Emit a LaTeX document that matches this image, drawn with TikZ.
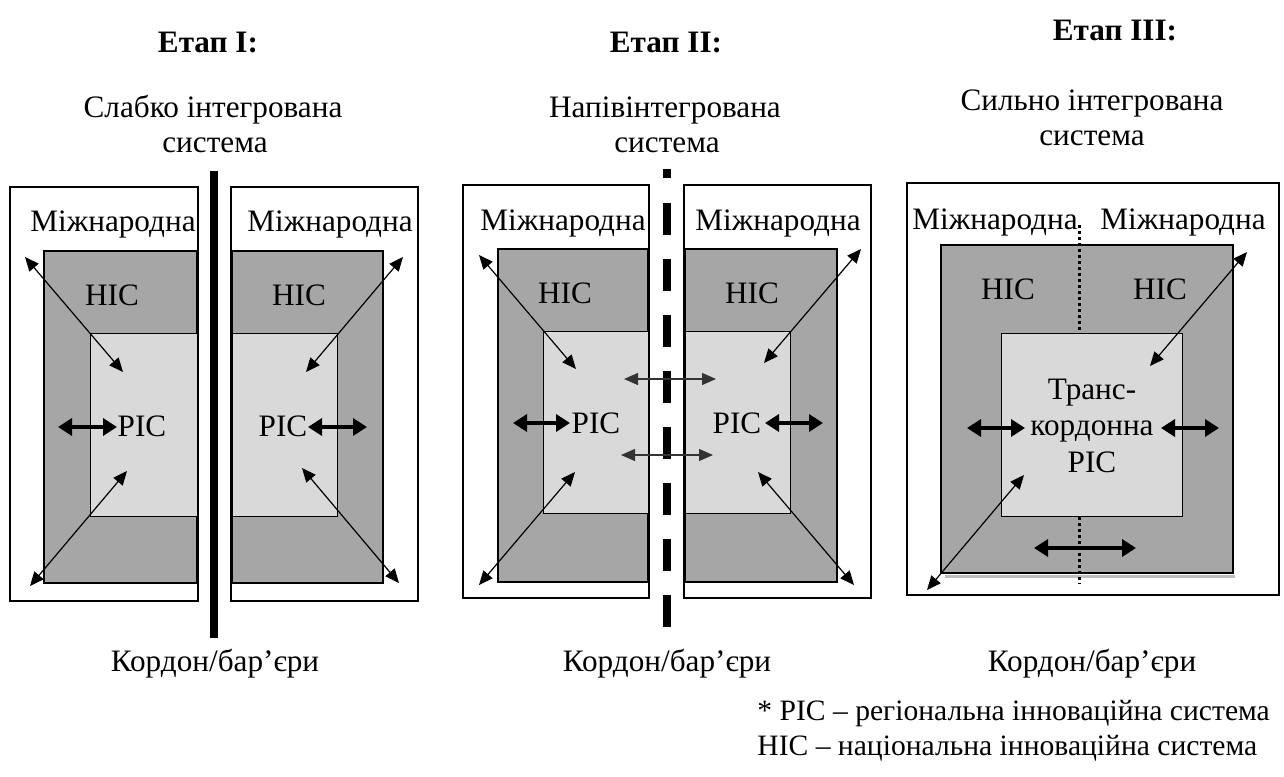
\documentclass[tikz,border=0pt]{standalone}
\usepackage{fontspec}
\setmainfont{LiberationSerif-Regular.ttf}[BoldFont=LiberationSerif-Bold.ttf]
\usetikzlibrary{arrows.meta,fit}
\definecolor{darkfill}{RGB}{166,166,166}
\definecolor{lightfill}{RGB}{217,217,217}
\definecolor{shadowgray}{RGB}{190,190,190}
\begin{document}
\begin{tikzpicture}[x=0.5pt,y=-0.5pt,
  font=\fontsize{15.6}{18.7}\selectfont,
  outerbox/.style={draw, line width=1pt, fill=white, inner sep=0pt},
  natbox/.style={draw, line width=1.3pt, fill=darkfill, inner sep=0pt},
  regbox/.style={draw, line width=0.5pt, fill=lightfill, inner sep=0pt},
  lbl/.style={inner sep=0pt, anchor=base},
  leg/.style={inner sep=0pt, anchor=base west, font=\fontsize{14.8}{17.8}\selectfont},
  titletext/.style={inner sep=0pt, anchor=base, font=\fontsize{15.6}{18.7}\selectfont\bfseries},
  thinarrow/.style={line width=0.6pt, {Triangle[length=7pt,width=6pt]}-{Triangle[length=7pt,width=6pt]}},
  midarrow/.style={line width=0.6pt, draw=black!80, {Triangle[length=7pt,width=6pt]}-{Triangle[length=7pt,width=6pt]}},
  thickarrow/.style={line width=2.4pt, {Triangle[length=7pt,width=8.5pt]}-{Triangle[length=7pt,width=8.5pt]}},
  solidbar/.style={line width=4pt},
  dashbar/.style={line width=4pt, dash pattern=on 16pt off 12pt},
  dotbar/.style={line width=1.5pt, dash pattern=on 1.5pt off 1.5pt}
]
\useasboundingbox (0,0) rectangle (1284,776);

% ---------------- Stage I ----------------
\node[titletext] (t1) at (208,52) {Етап I:};
\node[lbl] (s1a) at (213,117) {Слабко інтегрована};
\node[lbl] (s1b) at (215,152) {система};

\node[outerbox, fit={(10,187)(198,601)}] (o1L) {};
\node[natbox, fit={(44,251)(197,583)}] (n1L) {};
\node[regbox, fit={(90,333)(197,516)}] (r1L) {};
\node[outerbox, fit={(231,187)(418,601)}] (o1R) {};
\node[natbox, fit={(232,251)(383,583)}] (n1R) {};
\node[regbox, fit={(232,333)(337,516)}] (r1R) {};

\coordinate (b1top) at (214,171);
\coordinate (b1bot) at (214,638);
\draw[solidbar] (b1top) -- (b1bot);

\node[lbl] (m1L) at (113,231) {Міжнародна};
\node[lbl] (m1R) at (330,231) {Міжнародна};
\node[lbl] (h1L) at (112,305) {НІС};
\node[lbl] (h1R) at (299,305) {НІС};
\node[lbl] (p1L) at (142,436) {РІС};
\node[lbl] (p1R) at (283,436) {РІС};

\coordinate (a1s) at (25,257);  \coordinate (a1e) at (123,372);
\coordinate (a2s) at (30,586);  \coordinate (a2e) at (127,471);
\coordinate (a3s) at (58,427);  \coordinate (a3e) at (117,427);
\coordinate (a4s) at (403,257); \coordinate (a4e) at (306,372);
\coordinate (a5s) at (399,583); \coordinate (a5e) at (302,468);
\coordinate (a6s) at (308,427); \coordinate (a6e) at (367,427);
\draw[thinarrow] (a1s) -- (a1e);
\draw[thinarrow] (a2s) -- (a2e);
\draw[thickarrow] (a3s) -- (a3e);
\draw[thinarrow] (a4s) -- (a4e);
\draw[thinarrow] (a5s) -- (a5e);
\draw[thickarrow] (a6s) -- (a6e);

\node[lbl] (k1) at (215,671) {Кордон/бар’єри};

% ---------------- Stage II ----------------
\node[titletext] (t2) at (666,52) {Етап II:};
\node[lbl] (s2a) at (665,117) {Напівінтегрована};
\node[lbl] (s2b) at (667,152) {система};

\node[outerbox, fit={(463,185)(649,598)}] (o2L) {};
\node[natbox, fit={(498,249)(648,582)}] (n2L) {};
\node[regbox, fit={(543,331)(648,513)}] (r2L) {};
\node[outerbox, fit={(684,185)(871,598)}] (o2R) {};
\node[natbox, fit={(685,249)(837,582)}] (n2R) {};
\node[regbox, fit={(685,331)(790,513)}] (r2R) {};

\coordinate (d2a) at (667,169);
\coordinate (d2b) at (667,178);
\coordinate (d2c) at (667,203);
\coordinate (d2d) at (667,628);
\draw[line width=4pt] (d2a) -- (d2b);
\draw[dashbar] (d2c) -- (d2d);

\node[lbl] (m2L) at (563,230) {Міжнародна};
\node[lbl] (m2R) at (778,230) {Міжнародна};
\node[lbl] (h2L) at (565,303) {НІС};
\node[lbl] (h2R) at (752,303) {НІС};
\node[lbl] (p2L) at (596,433) {РІС};
\node[lbl] (p2R) at (737,433) {РІС};

\coordinate (c1s) at (479,255); \coordinate (c1e) at (576,369);
\coordinate (c2s) at (479,585); \coordinate (c2e) at (575,472);
\coordinate (c3s) at (513,423); \coordinate (c3e) at (570,423);
\coordinate (c4s) at (624,379); \coordinate (c4e) at (716,379);
\coordinate (c5s) at (621,455); \coordinate (c5e) at (713,455);
\coordinate (c6s) at (861,249); \coordinate (c6e) at (764,363);
\coordinate (c7s) at (854,585); \coordinate (c7e) at (758,472);
\coordinate (c8s) at (765,423); \coordinate (c8e) at (823,423);
\draw[thinarrow] (c1s) -- (c1e);
\draw[thinarrow] (c2s) -- (c2e);
\draw[thickarrow] (c3s) -- (c3e);
\draw[midarrow] (c4s) -- (c4e);
\draw[midarrow] (c5s) -- (c5e);
\draw[thinarrow] (c6s) -- (c6e);
\draw[thinarrow] (c7s) -- (c7e);
\draw[thickarrow] (c8s) -- (c8e);

\node[lbl] (k2) at (667,671) {Кордон/бар’єри};

% ---------------- Stage III ----------------
\node[titletext] (t3) at (1115,40) {Етап III:};
\node[lbl] (s3a) at (1092,110) {Сильно інтегрована};
\node[lbl] (s3b) at (1092,145) {система};

\node[outerbox, fit={(907,183)(1279,595)}] (o3) {};
\coordinate (shl) at (945,576);
\coordinate (shr) at (1235,576);
\draw[shadowgray, line width=1.5pt] (shl) -- (shr);
\node[natbox, fit={(941,245)(1233,573)}] (n3) {};
\node[regbox, fit={(1001,333)(1182,516)}] (r3) {};

\coordinate (e1a) at (1079,225);
\coordinate (e1b) at (1079,333);
\coordinate (e2a) at (1079,517);
\coordinate (e2b) at (1079,584);
\draw[dotbar] (e1a) -- (e1b);
\draw[dotbar] (e2a) -- (e2b);

\node[lbl] (m3L) at (995,229) {Міжнародна};
\node[lbl] (m3R) at (1183,229) {Міжнародна};
\node[lbl] (h3L) at (1008,299) {НІС};
\node[lbl] (h3R) at (1160,299) {НІС};
\node[lbl] (p3a) at (1092,399) {Транс-};
\node[lbl] (p3b) at (1092,435) {кордонна};
\node[lbl] (p3c) at (1092,472) {РІС};

\coordinate (f1s) at (1247,252); \coordinate (f1e) at (1150,366);
\coordinate (f2s) at (927,590);  \coordinate (f2e) at (1024,475);
\coordinate (f3s) at (967,428);  \coordinate (f3e) at (1025,428);
\coordinate (f4s) at (1161,428); \coordinate (f4e) at (1219,428);
\coordinate (f5s) at (1034,548); \coordinate (f5e) at (1136,548);
\draw[thinarrow] (f1s) -- (f1e);
\draw[thinarrow] (f2s) -- (f2e);
\draw[thickarrow] (f3s) -- (f3e);
\draw[thickarrow] (f4s) -- (f4e);
\draw[thickarrow] (f5s) -- (f5e);

\node[lbl] (k3) at (1092,671) {Кордон/бар’єри};

% ---------------- Legend ----------------
\node[leg] (l1) at (757,720) {* РІС – регіональна інноваційна система};
\node[leg] (l2) at (757,755) {НІС – національна інноваційна система};
\end{tikzpicture}
\end{document}
